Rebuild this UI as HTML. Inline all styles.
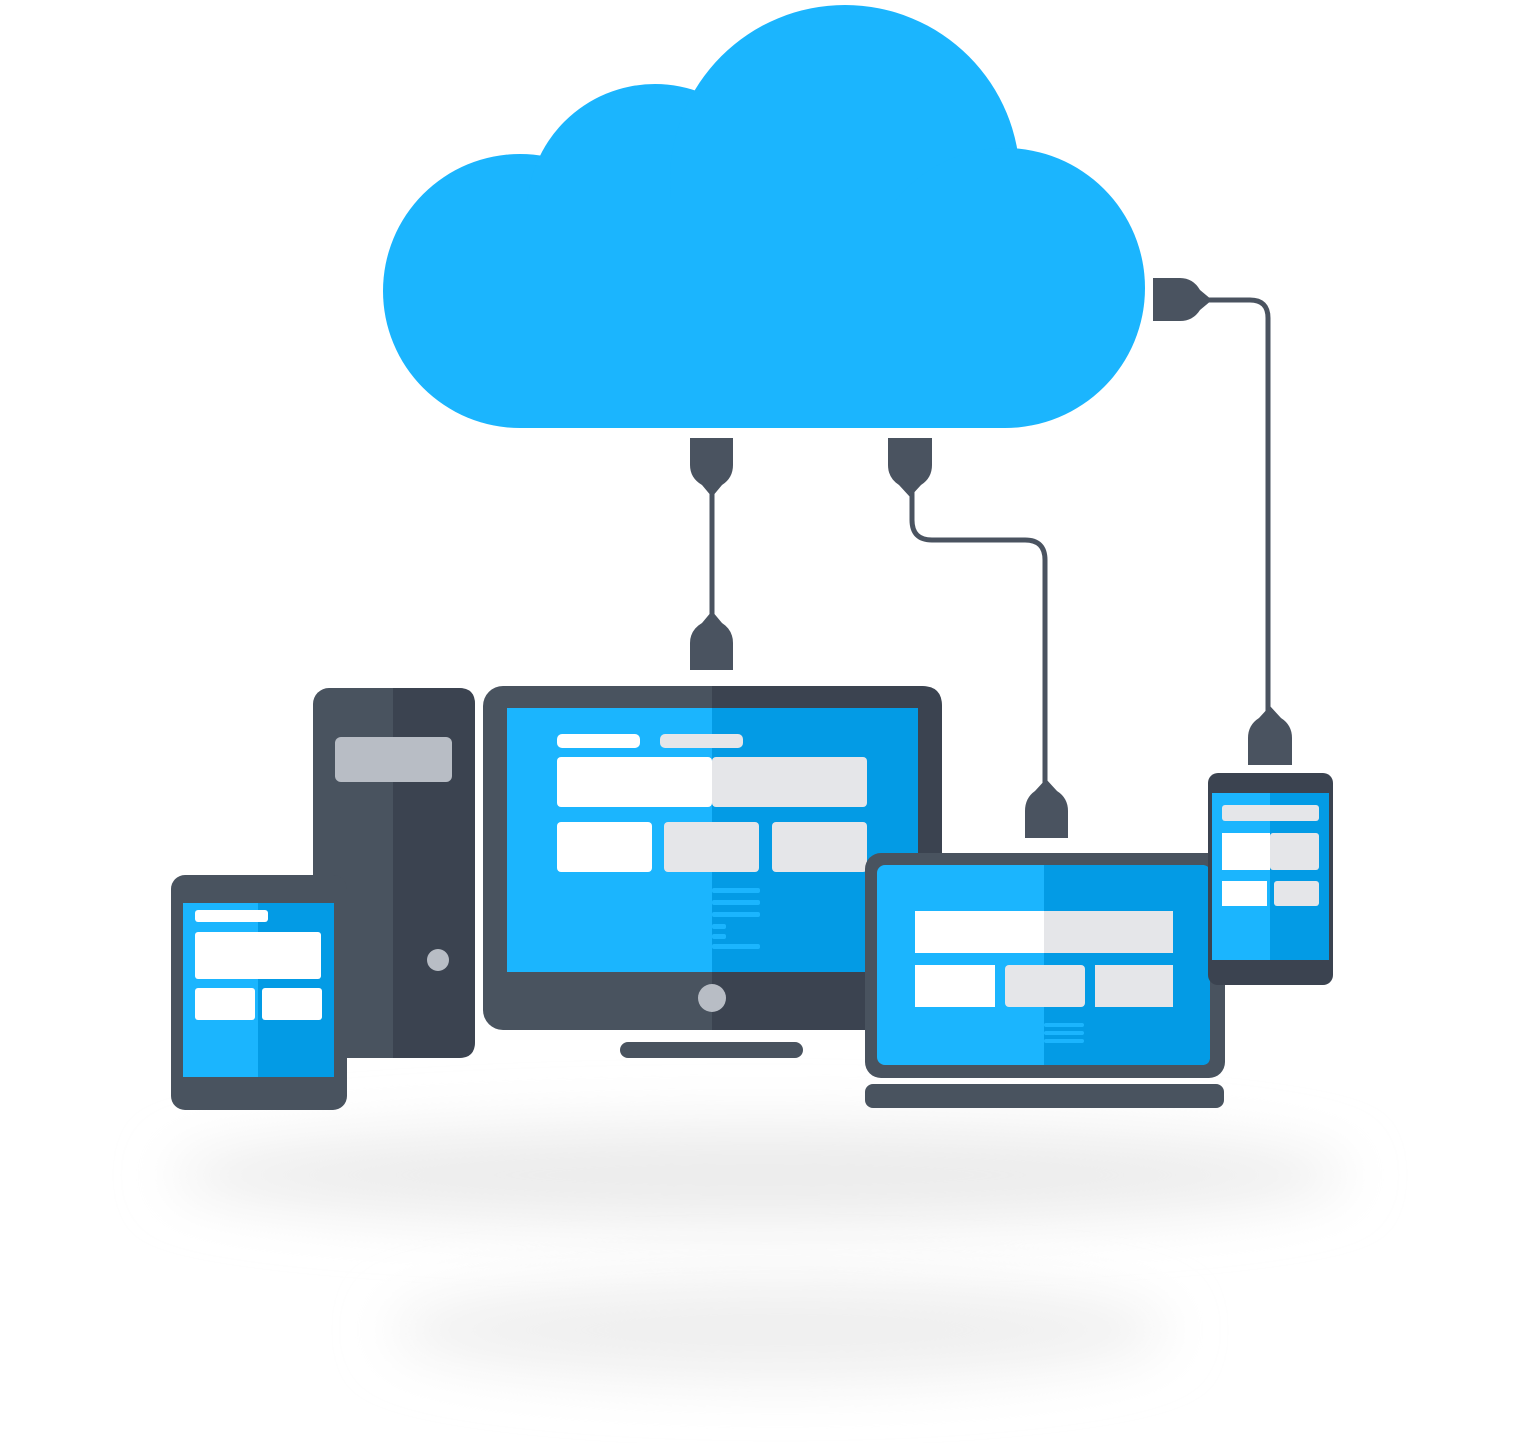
<!DOCTYPE html>
<html><head><meta charset="utf-8"><style>
html,body{margin:0;padding:0;background:#fff;width:1520px;height:1443px;overflow:hidden}
</style></head><body>
<svg width="1520" height="1443" viewBox="0 0 1520 1443" xmlns="http://www.w3.org/2000/svg">
<defs>
<filter id="b1" x="-30%" y="-100%" width="160%" height="300%"><feGaussianBlur stdDeviation="28"/></filter>
<clipPath id="cc"><rect x="0" y="0" width="1520" height="429"/></clipPath>
</defs>
<!-- shadows -->
<ellipse cx="760" cy="1175" rx="590" ry="50" fill="#ececec" filter="url(#b1)"/>
<ellipse cx="780" cy="1330" rx="390" ry="50" fill="#efefef" filter="url(#b1)"/>
<!-- cloud -->
<g fill="#1bb5fe" clip-path="url(#cc)">
<circle cx="520" cy="291" r="137"/>
<circle cx="655" cy="212" r="128"/>
<circle cx="845" cy="180" r="175"/>
<circle cx="1005" cy="288" r="140"/>
<rect x="520" y="200" width="485" height="228"/>
</g>
<!-- connectors -->
<g fill="none" stroke="#4a5360" stroke-width="5">
<path d="M712 480 V630"/>
<path d="M912 480 V520 Q912 540 932 540 H1025 Q1045 540 1045 560 V795"/>
<path d="M1200 300 H1250 Q1268 300 1268 318 V720"/>
</g>
<g fill="#4a5360">
<path d="M690 438 H733 V465 Q733 478 722 485 L712 497 L702 485 Q690 478 690 465 Z"/>
<path d="M690 670 H733 V643 Q733 630 722 623 L712 611 L702 623 Q690 630 690 643 Z"/>
<path d="M888 438 H932 V465 Q932 478 921 485 L910 497 L899 485 Q888 478 888 465 Z"/>
<path d="M1025 838 H1068 V811 Q1068 798 1057 791 L1046 779 L1035 791 Q1025 798 1025 811 Z"/>
<path d="M1248 765 H1292 V738 Q1292 725 1281 718 L1270 706 L1259 718 Q1248 725 1248 738 Z"/>
<path d="M1153 278 V321 H1180 Q1193 321 1200 310 L1212 300 L1200 290 Q1193 278 1180 278 Z"/>
</g>
<!-- tower -->
<rect x="313" y="688" width="162" height="370" rx="16" fill="#49535f"/>
<path d="M393 688 H459 Q475 688 475 704 V1042 Q475 1058 459 1058 H393 Z" fill="#3b4350"/>
<rect x="335" y="737" width="117" height="45" rx="6" fill="#b8bdc5"/>
<circle cx="438" cy="960" r="11" fill="#b8bdc5"/>
<!-- left phone -->
<rect x="171" y="875" width="176" height="235" rx="14" fill="#49535f"/>
<rect x="183" y="903" width="151" height="174" fill="#1bb5fe"/>
<rect x="258" y="903" width="76" height="174" fill="#039be5"/>
<rect x="195" y="910" width="73" height="12" rx="3" fill="#fff"/>
<rect x="195" y="932" width="126" height="47" rx="3" fill="#fff"/>
<rect x="195" y="988" width="60" height="32" rx="3" fill="#fff"/>
<rect x="262" y="988" width="60" height="32" rx="3" fill="#fff"/>
<!-- monitor -->
<rect x="483" y="686" width="459" height="344" rx="20" fill="#49535f"/>
<path d="M712 686 H922 Q942 686 942 706 V1010 Q942 1030 922 1030 H712 Z" fill="#3b4350"/>
<rect x="507" y="708" width="411" height="264" fill="#1bb5fe"/>
<rect x="712" y="708" width="206" height="264" fill="#039be5"/>
<rect x="557" y="734" width="83" height="14" rx="5" fill="#fff"/>
<rect x="660" y="734" width="83" height="14" rx="5" fill="#e5e6e9"/>
<rect x="557" y="757" width="155" height="50" rx="4" fill="#fff"/>
<rect x="712" y="757" width="155" height="50" rx="4" fill="#e5e6e9"/>
<rect x="557" y="822" width="95" height="50" rx="4" fill="#fff"/>
<rect x="664" y="822" width="95" height="50" rx="4" fill="#e5e6e9"/>
<rect x="772" y="822" width="95" height="50" rx="4" fill="#e5e6e9"/>
<g fill="#1bb5fe"><rect x="712" y="888" width="48" height="5" rx="2"/><rect x="712" y="900" width="48" height="5" rx="2"/><rect x="712" y="912" width="48" height="5" rx="2"/><rect x="712" y="924" width="14" height="5" rx="2"/><rect x="712" y="934" width="14" height="5" rx="2"/><rect x="712" y="944" width="48" height="5" rx="2"/></g>
<circle cx="712" cy="998" r="14" fill="#b8bdc5"/>
<rect x="620" y="1042" width="183" height="16" rx="8" fill="#49535f"/>
<!-- laptop -->
<rect x="865" y="853" width="360" height="225" rx="16" fill="#49535f"/>
<rect x="877" y="865" width="333" height="200" rx="8" fill="#1bb5fe"/>
<path d="M1044 865 H1202 Q1210 865 1210 873 V1057 Q1210 1065 1202 1065 H1044 Z" fill="#039be5"/>
<rect x="915" y="911" width="130" height="42" fill="#fff"/>
<rect x="1044" y="911" width="129" height="42" fill="#e5e6e9"/>
<rect x="915" y="965" width="80" height="42" fill="#fff"/>
<rect x="1005" y="965" width="80" height="42" rx="4" fill="#e5e6e9"/>
<rect x="1095" y="965" width="78" height="42" fill="#e5e6e9"/>
<g fill="#1bb5fe"><rect x="1044" y="1023" width="40" height="4" rx="2"/><rect x="1044" y="1031" width="40" height="4" rx="2"/><rect x="1044" y="1039" width="40" height="4" rx="2"/></g>
<rect x="865" y="1084" width="359" height="24" rx="8" fill="#49535f"/>
<!-- right phone -->
<rect x="1208" y="773" width="125" height="212" rx="10" fill="#3b4350"/>
<rect x="1212" y="793" width="117" height="167" fill="#1bb5fe"/>
<rect x="1270" y="793" width="59" height="167" fill="#039be5"/>
<rect x="1222" y="805" width="97" height="16" rx="3" fill="#e5e6e9"/>
<rect x="1222" y="833" width="48" height="37" fill="#fff"/>
<rect x="1270" y="833" width="49" height="37" rx="3" fill="#e5e6e9"/>
<rect x="1222" y="881" width="45" height="25" fill="#fff"/>
<rect x="1274" y="881" width="45" height="25" rx="3" fill="#e5e6e9"/>
</svg>
</body></html>
